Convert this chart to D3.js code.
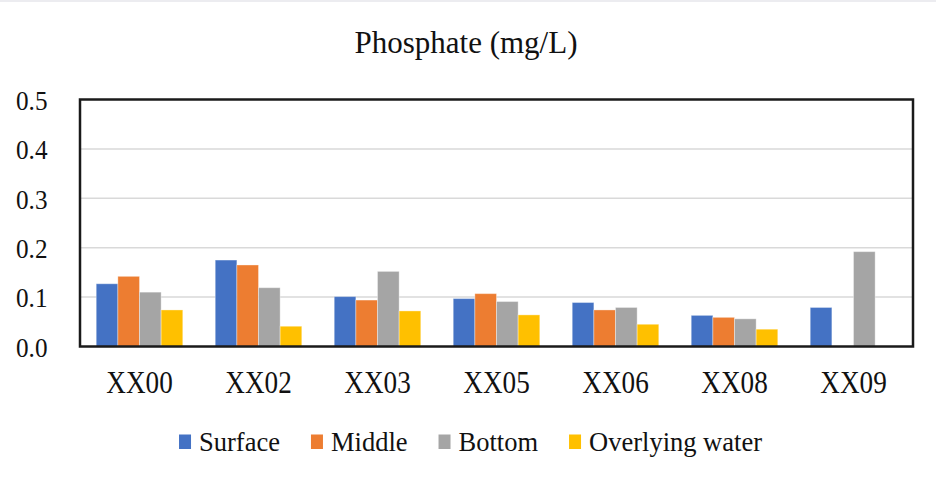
<!DOCTYPE html>
<html>
<head>
<meta charset="utf-8">
<script src="https://cdn.jsdelivr.net/npm/d3@7"></script>
<style>
  html, body { margin: 0; padding: 0; background: #fff; }
  svg { display: block; }
  text { font-family: "Liberation Serif", "Times New Roman", Tinos, "DejaVu Serif", serif; fill: #111; }
</style>
</head>
<body>
<svg id="chart" width="936" height="480"></svg>
<script>
// Phosphate concentrations by station and layer (mg/L)
const categories = ["XX00", "XX02", "XX03", "XX05", "XX06", "XX08", "XX09"];
const surface   = [0.127, 0.175, 0.101, 0.097, 0.089, 0.063, 0.079];
const middle    = [0.142, 0.165, 0.094, 0.107, 0.074, 0.059, null];
const bottom    = [0.110, 0.119, 0.152, 0.091, 0.079, 0.056, 0.192];
const overlying = [0.074, 0.041, 0.072, 0.064, 0.045, 0.035, null];
const seriesNames = ["Surface", "Middle", "Bottom", "Overlying water"];
const yTicks = [0, 0.1, 0.2, 0.3, 0.4, 0.5];

const seriesValues = [surface, middle, bottom, overlying];
const colors = ["#4472C4", "#ED7D31", "#A5A5A5", "#FFC000"];
const serif = '"Liberation Serif", "Times New Roman", Tinos, "DejaVu Serif", serif';

const svg = d3.select("#chart");
const plot = { left: 80, right: 913, top: 99.5, bottom: 346.5 };

// thin grey strip along the top edge
svg.append("rect").attr("x", 0).attr("y", 0).attr("width", 936).attr("height", 2)
  .attr("fill", "#ececf0");

const x0 = d3.scaleBand().domain(categories).range([plot.left, plot.right]).padding(0);
const step = x0.bandwidth();
const barW = step / 5.5;            // four bars plus a 150% gap
const x1 = d3.scaleBand().domain(seriesNames)
  .range([0.75 * barW, 4.75 * barW]).padding(0);

const y = d3.scaleLinear().domain([0, 0.5]).range([plot.bottom, plot.top]);

// gridlines
svg.append("g").selectAll("line")
  .data(yTicks.filter(t => t > 0 && t < 0.5))
  .join("line")
  .attr("x1", plot.left).attr("x2", plot.right)
  .attr("y1", d => y(d)).attr("y2", d => y(d))
  .attr("stroke", "#d9d9d9").attr("stroke-width", 1.5);

// bars
const rows = categories.map((c, i) => ({
  cat: c,
  vals: seriesNames.map((s, k) => ({ s, k, v: seriesValues[k][i] }))
}));

svg.append("g").selectAll("g")
  .data(rows)
  .join("g")
  .attr("transform", d => `translate(${x0(d.cat)},0)`)
  .selectAll("rect")
  .data(d => d.vals.filter(e => e.v != null))
  .join("rect")
  .attr("x", d => x1(d.s))
  .attr("width", x1.bandwidth())
  .attr("y", d => y(d.v))
  .attr("height", d => y(0) - y(d.v))
  .attr("fill", d => colors[d.k])
  .attr("stroke", "#ffffff").attr("stroke-opacity", 0.35).attr("stroke-width", 1);

// plot frame
svg.append("rect")
  .attr("x", plot.left).attr("y", plot.top)
  .attr("width", plot.right - plot.left).attr("height", plot.bottom - plot.top)
  .attr("fill", "none").attr("stroke", "#1a1a1a").attr("stroke-width", 2.5);

// y axis labels
const yAxis = d3.axisLeft(y).tickValues(yTicks).tickFormat(d3.format(".1f")).tickSize(0);
const gy = svg.append("g").attr("transform", `translate(${plot.left},0)`).call(yAxis)
  .attr("font-family", serif);
gy.select(".domain").remove();
gy.selectAll("text")
  .attr("x", 0).attr("dy", null).attr("y", 0)
  .attr("text-anchor", "end")
  .style("font-size", "28px")
  .style("font-family", serif)
  .attr("fill", "#111")
  .attr("transform", "translate(-32.5,9.7) scale(0.9,1)");

// x axis labels
const xAxis = d3.axisBottom(x0).tickSize(0);
const gx = svg.append("g").attr("transform", `translate(0,${plot.bottom})`).call(xAxis)
  .attr("font-family", serif);
gx.select(".domain").remove();
gx.selectAll("text")
  .attr("y", 0).attr("dy", null)
  .attr("text-anchor", "middle")
  .style("font-size", "32px")
  .style("font-family", serif)
  .attr("fill", "#111")
  .attr("transform", "translate(0,46.8) scale(0.85,1)");

// title
svg.append("text")
  .attr("x", 466).attr("y", 53.3)
  .attr("text-anchor", "middle")
  .style("font-size", "31px")
  .style("font-family", serif)
  .text("Phosphate (mg/L)");

// legend
const legend = svg.append("g");
let lx = 0;
seriesNames.forEach((name, k) => {
  const g = legend.append("g").attr("transform", `translate(${lx},0)`);
  g.append("rect").attr("x", 0).attr("y", 434.5).attr("width", 12).attr("height", 14.5)
    .attr("fill", colors[k]);
  const t = g.append("text").attr("x", 20).attr("y", 450.7)
    .style("font-size", "26.5px")
    .style("font-family", serif)
    .text(name);
  lx += 20 + t.node().getComputedTextLength() + 31;
});
const legendW = lx - 31;
legend.attr("transform", `translate(${470.5 - legendW / 2},0)`);
</script>
</body>
</html>
